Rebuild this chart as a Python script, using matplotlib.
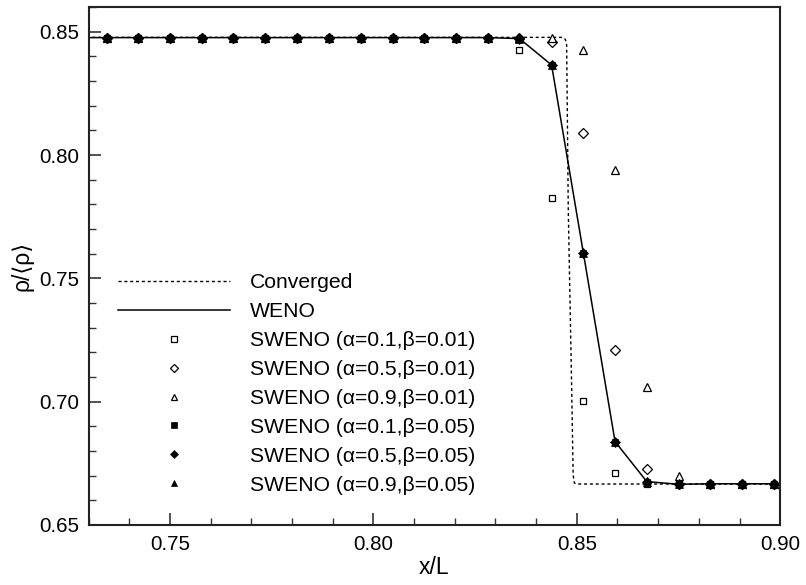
import matplotlib
matplotlib.use("Agg")
import matplotlib.pyplot as plt
from matplotlib.ticker import MultipleLocator, FormatStrFormatter

plt.rcParams['font.family'] = ['Liberation Sans', 'DejaVu Sans']

# Grid points of the coarse simulations
x_grid = [0.7266, 0.7344, 0.7422, 0.7500, 0.7578, 0.7656, 0.7734, 0.7813,
          0.7891, 0.7969, 0.8047, 0.8125, 0.8203, 0.8281, 0.8359, 0.8438,
          0.8516, 0.8594, 0.8672, 0.8750, 0.8828, 0.8906, 0.8984, 0.9063]

# Converged (fine-grid) reference profile
x_conv = [0.70, 0.8462, 0.8468, 0.8472, 0.8475, 0.8479, 0.8487, 0.8491,
          0.8494, 0.8500, 0.92]
rho_conv = [0.8477, 0.8477, 0.8475, 0.8468, 0.8447, 0.7778, 0.7089, 0.6703,
            0.6670, 0.6666, 0.6666]

rho_weno = [0.8476, 0.8476, 0.8476, 0.8476, 0.8476, 0.8476, 0.8476, 0.8476,
            0.8476, 0.8476, 0.8476, 0.8476, 0.8476, 0.8476, 0.8472, 0.8365,
            0.7604, 0.6838, 0.6676, 0.6665, 0.6667, 0.6667, 0.6667, 0.6667]

rho_a01_b001 = [0.8476, 0.8476, 0.8476, 0.8476, 0.8476, 0.8476, 0.8476, 0.8476,
                0.8476, 0.8476, 0.8476, 0.8476, 0.8476, 0.8476, 0.8427, 0.7826,
                0.7003, 0.6710, 0.6667, 0.6667, 0.6667, 0.6667, 0.6667, 0.6667]
rho_a05_b001 = [0.8476, 0.8476, 0.8476, 0.8476, 0.8476, 0.8476, 0.8476, 0.8476,
                0.8476, 0.8476, 0.8476, 0.8476, 0.8476, 0.8476, 0.8476, 0.8458,
                0.8091, 0.7209, 0.6727, 0.6667, 0.6667, 0.6667, 0.6667, 0.6667]
rho_a09_b001 = [0.8476, 0.8476, 0.8476, 0.8476, 0.8476, 0.8476, 0.8476, 0.8476,
                0.8476, 0.8476, 0.8476, 0.8476, 0.8476, 0.8476, 0.8476, 0.8476,
                0.8424, 0.7938, 0.7061, 0.6699, 0.6667, 0.6667, 0.6667, 0.6667]
rho_a01_b005 = [0.8476, 0.8476, 0.8476, 0.8476, 0.8476, 0.8476, 0.8476, 0.8476,
                0.8476, 0.8476, 0.8476, 0.8476, 0.8476, 0.8476, 0.8472, 0.8365,
                0.7604, 0.6838, 0.6676, 0.6665, 0.6667, 0.6667, 0.6667, 0.6667]
rho_a05_b005 = [0.8476, 0.8476, 0.8476, 0.8476, 0.8476, 0.8476, 0.8476, 0.8476,
                0.8476, 0.8476, 0.8476, 0.8476, 0.8476, 0.8476, 0.8472, 0.8365,
                0.7604, 0.6838, 0.6676, 0.6665, 0.6667, 0.6667, 0.6667, 0.6667]
rho_a09_b005 = [0.8476, 0.8476, 0.8476, 0.8476, 0.8476, 0.8476, 0.8476, 0.8476,
                0.8476, 0.8476, 0.8476, 0.8476, 0.8476, 0.8476, 0.8472, 0.8365,
                0.7604, 0.6838, 0.6676, 0.6665, 0.6667, 0.6667, 0.6667, 0.6667]

labels = ["Converged", "WENO",
          "SWENO (α=0.1,β=0.01)", "SWENO (α=0.5,β=0.01)", "SWENO (α=0.9,β=0.01)",
          "SWENO (α=0.1,β=0.05)", "SWENO (α=0.5,β=0.05)", "SWENO (α=0.9,β=0.05)"]

fig = plt.figure(figsize=(8.06, 5.85), dpi=100)
ax = fig.add_axes([0.110, 0.1026, 0.858, 0.8854])

ax.plot(x_conv, rho_conv, color='black', lw=1.0, ls=(0, (2.2, 2.0)), label=labels[0])
ax.plot(x_grid, rho_weno, color='black', lw=1.1, label=labels[1])

open_kw = dict(ls='none', mfc='white', mec='black', mew=0.9)
ax.plot(x_grid, rho_a01_b001, marker='s', ms=5.0, label=labels[2], **open_kw)
ax.plot(x_grid, rho_a05_b001, marker='D', ms=5.0, label=labels[3], **open_kw)
ax.plot(x_grid, rho_a09_b001, marker='^', ms=5.5, label=labels[4], **open_kw)

fill_kw = dict(ls='none', mfc='black', mec='black', mew=0.5)
ax.plot(x_grid, rho_a01_b005, marker='s', ms=5.0, label=labels[5], **fill_kw)
ax.plot(x_grid, rho_a05_b005, marker='D', ms=5.0, label=labels[6], **fill_kw)
ax.plot(x_grid, rho_a09_b005, marker='^', ms=5.5, label=labels[7], **fill_kw)

ax.set_xlim(0.73, 0.90)
ax.set_ylim(0.65, 0.86)
ax.xaxis.set_major_locator(MultipleLocator(0.05))
ax.xaxis.set_minor_locator(MultipleLocator(0.01))
ax.yaxis.set_major_locator(MultipleLocator(0.05))
ax.yaxis.set_minor_locator(MultipleLocator(0.01))
ax.xaxis.set_major_formatter(FormatStrFormatter('%.2f'))
ax.yaxis.set_major_formatter(FormatStrFormatter('%.2f'))

ax.tick_params(which='both', direction='in', top=False, right=False,
               labelsize=14.8, pad=7, color='#333333')
ax.tick_params(which='major', length=8.5, width=1.2)
ax.tick_params(which='minor', length=5, width=1.0)
for sp in ax.spines.values():
    sp.set_linewidth(1.5)
    sp.set_color('#222222')

ax.set_xlabel('x/L', fontsize=16.5, labelpad=2)
ax.set_ylabel('ρ/⟨ρ⟩', fontsize=16.5, labelpad=4)

leg = ax.legend(loc='upper left', bbox_to_anchor=(0.042, 0.486), frameon=False,
                fontsize=15.2, handlelength=5.3, handletextpad=0.95,
                labelspacing=0.47, borderpad=0, borderaxespad=0,
                markerscale=0.8)

fig.savefig('out.png', dpi=100)
